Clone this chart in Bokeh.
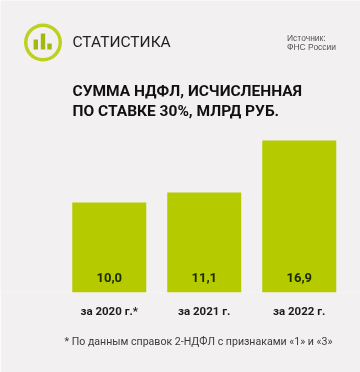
from bokeh.plotting import figure
from bokeh.models import Range1d, FixedTicker, Title
from bokeh.core.properties import value
from bokeh.embed import file_html
from bokeh.resources import INLINE

categories = ["за 2020 г.*", "за 2021 г.", "за 2022 г."]
values = [10.0, 11.1, 16.9]
value_labels = ["10,0", "11,1", "16,9"]
title_lines = ["СУММА НДФЛ, ИСЧИСЛЕННАЯ", "ПО СТАВКЕ 30%, МЛРД РУБ."]
brand = "СТАТИСТИКА"
source_lines = ["Источник:", "ФНС России"]
footnote = "* По данным справок 2-НДФЛ с признаками «1» и «3»"

BG = "#f3f0f1"
GREEN = "#b5cb00"
FONT = "Roboto"

xs = list(range(len(categories)))
p = figure(width=360, height=372, output_backend="svg", toolbar_location=None,
           x_range=Range1d((0 - 108.75) / 95, (360 - 108.75) / 95),
           y_range=Range1d(0, 292 / 9.0),
           min_border_left=0, min_border_right=0, min_border_top=0, min_border_bottom=80,
           background_fill_color=BG, border_fill_color=BG, outline_line_color=None)
p.styles = {"position": "fixed", "left": "0", "top": "0"}

# page-pixel ranges for the decorative header and footer
p.extra_x_ranges = {"px": Range1d(0, 360)}
p.extra_y_ranges = {"px": Range1d(292, 0)}
px = dict(x_range_name="px", y_range_name="px")

p.grid.visible = False
p.yaxis.visible = False
p.xaxis.ticker = FixedTicker(ticks=xs)
p.xaxis.major_label_overrides = dict(zip(xs, categories))
p.xaxis.axis_line_color = None
p.xaxis.major_tick_line_color = None
p.xaxis.minor_tick_line_color = None
p.xaxis.major_label_standoff = 5
p.xaxis.major_label_text_font = FONT
p.xaxis.major_label_text_font_style = "bold"
p.xaxis.major_label_text_font_size = "11.5px"
p.xaxis.major_label_text_color = "#1c1c1c"

p.vbar(x=xs, top=values, bottom=0, width=74 / 95, fill_color=GREEN, line_color=None)
p.text(x=xs, y=[0] * 3, text=value_labels, y_offset=-11, text_align="center", text_baseline="bottom",
       text_font=value(FONT), text_font_style="bold", text_font_size="13px", text_color="#1c2a00")

# logo
p.annulus(x=[42.5], y=[42], inner_radius=15.5, outer_radius=19, fill_color="#bdd01e", line_color=None, **px)
p.vbar(x=[35.3, 42.5, 49], bottom=[49, 49, 49], top=[39, 33, 43], width=4.4, fill_color="#a3b70c",
       line_color=None, **px)

p.text(x=[72], y=[41], text=[brand], text_baseline="middle", text_font=value(FONT),
       text_font_size="15.5px", text_color="#222222", **px)
p.text(x=[286.5, 286.5], y=[37, 46], text=source_lines, text_baseline="middle", text_font=value("Liberation Sans"),
       text_font_size="8.5px", text_color="#555555", **px)
p.text(x=[72, 72], y=[90, 110], text=title_lines, text_baseline="middle", text_font=value(FONT),
       text_font_style="bold", text_font_size="15.5px", text_color="#111111", **px)

p.add_layout(Title(text=footnote, align="left", offset=64, standoff=24, text_font=FONT,
                   text_font_size="10.6px", text_font_style="normal", text_color="#3c3c3c"), "below")

open("out.html", "w").write(file_html(p, INLINE))
